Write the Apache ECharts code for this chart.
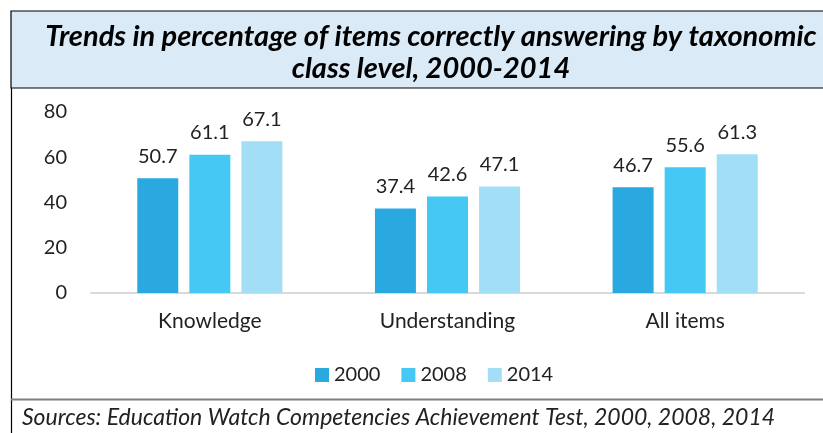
<!DOCTYPE html>
<html>
<head>
<meta charset="utf-8">
<script src="https://cdn.jsdelivr.net/npm/echarts@6/dist/echarts.min.js"></script>
<style>
  html, body { margin: 0; padding: 0; background: #fff; }
  #main { width: 823px; height: 433px; }
</style>
</head>
<body>
<div id="main"></div>
<script>
// data
var categories = ['Knowledge', 'Understanding', 'All items'];
var years = ['2000', '2008', '2014'];
var v2000 = [50.7, 37.4, 46.7];
var v2008 = [61.1, 42.6, 55.6];
var v2014 = [67.1, 47.1, 61.3];
var colors = ['#29A9E0', '#45C8F3', '#A3DEF7'];

var font = 'Lato, "Open Sans", sans-serif';
var chart = echarts.init(document.getElementById('main'));

function bar(name, data, color) {
  return {
    name: name,
    type: 'bar',
    data: data,
    barWidth: 41,
    barGap: '27%',
    itemStyle: { color: color },
    label: {
      show: true,
      position: 'top',
      distance: 12,
      fontFamily: font,
      fontSize: 20,
      color: '#222'
    }
  };
}

chart.setOption({
  animation: false,
  textStyle: { fontFamily: font },
  // title box and frame
  graphic: [
    { type: 'rect', shape: { x: 11, y: 11, width: 830, height: 77 },
      style: { fill: '#DBEAF7', stroke: '#000', lineWidth: 1.2 }, z: -1 },
    { type: 'line', shape: { x1: 11.5, y1: 88, x2: 11.5, y2: 433 },
      style: { stroke: '#000', lineWidth: 1.2 } },
    { type: 'line', shape: { x1: 11, y1: 399.5, x2: 823, y2: 399.5 },
      style: { stroke: '#7F7F7F', lineWidth: 2 } },
    { type: 'text', left: 22, top: 406,
      style: { text: 'Sources: Education Watch Competencies Achievement Test, 2000, 2008, 2014',
               fontFamily: font, fontStyle: 'italic', fontSize: 23, fill: '#222' } }
  ],
  title: {
    text: 'Trends in percentage of items correctly answering by taxonomic\nclass level, 2000-2014',
    left: 426,
    textAlign: 'center',
    top: 16,
    textStyle: {
      fontFamily: font,
      fontSize: 29,
      fontWeight: 'bold',
      fontStyle: 'italic',
      color: '#000',
      lineHeight: 32
    }
  },
  legend: {
    data: years,
    left: 315,
    top: 365,
    padding: 0,
    itemWidth: 14,
    itemHeight: 14,
    itemGap: 21,
    icon: 'rect',
    textStyle: { fontFamily: font, fontSize: 20, color: '#222' }
  },
  grid: { left: 91, right: 19, top: 112, bottom: 140 },
  xAxis: {
    type: 'category',
    data: categories,
    axisLine: { lineStyle: { color: '#D9D9D9', width: 2 } },
    axisTick: { show: false },
    axisLabel: { fontFamily: font, fontSize: 21, color: '#222', margin: 18 }
  },
  yAxis: {
    type: 'value',
    min: 0,
    max: 80,
    interval: 20,
    splitLine: { show: false },
    axisLine: { show: false },
    axisTick: { show: false },
    axisLabel: { fontFamily: font, fontSize: 20, color: '#222', margin: 24 }
  },
  series: [
    bar(years[0], v2000, colors[0]),
    bar(years[1], v2008, colors[1]),
    bar(years[2], v2014, colors[2])
  ]
});
</script>
</body>
</html>
